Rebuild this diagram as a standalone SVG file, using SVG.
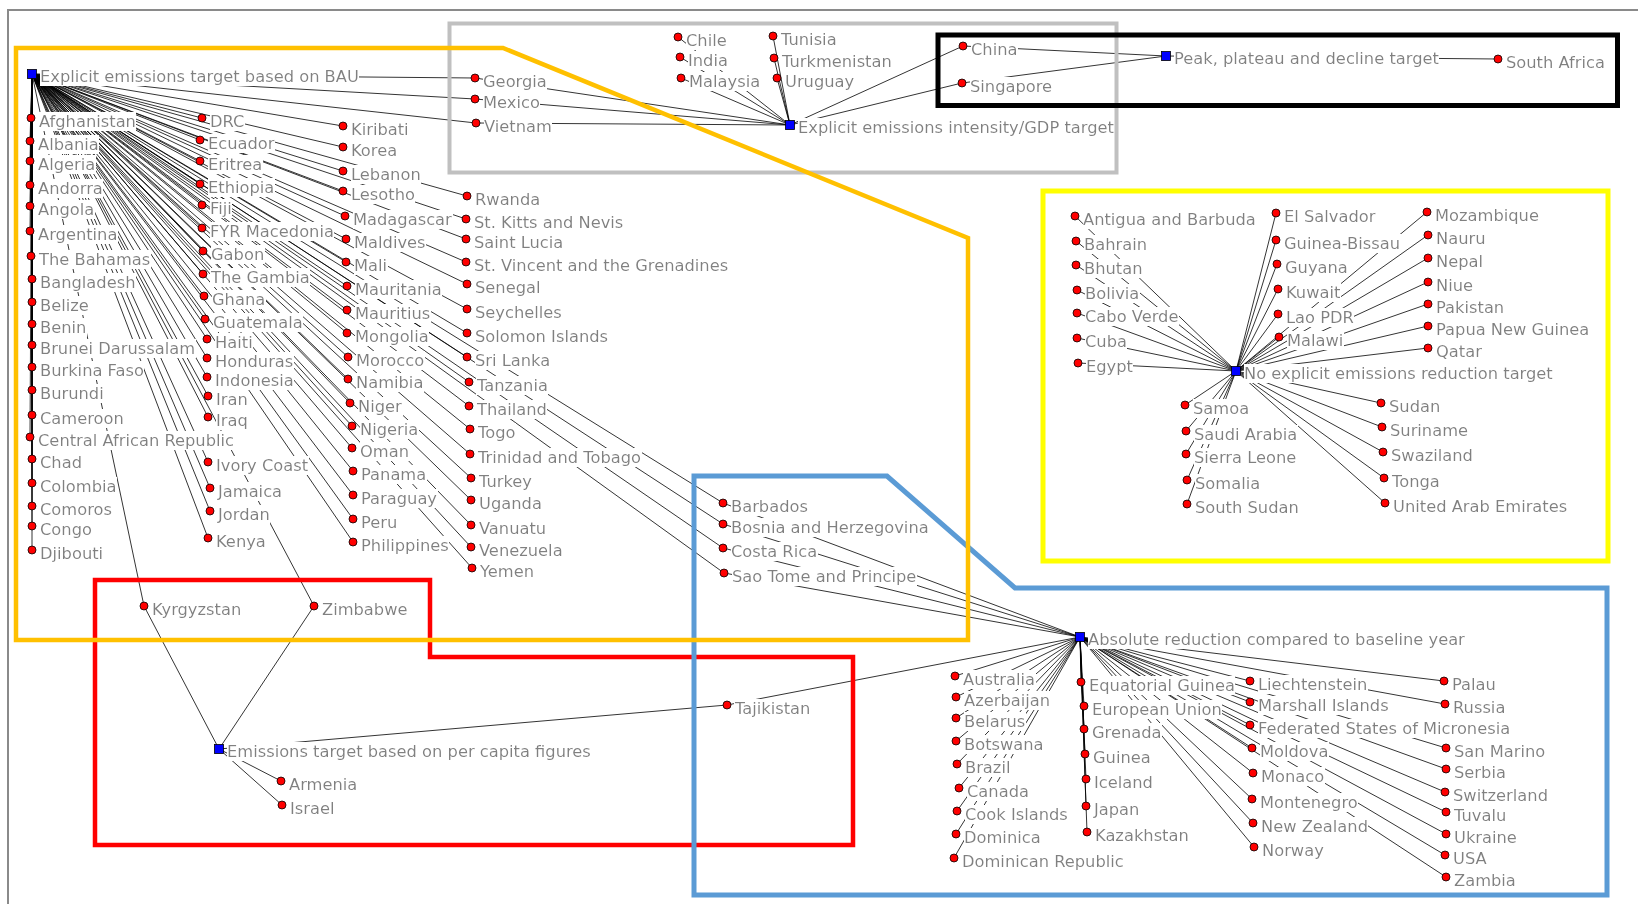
<svg xmlns="http://www.w3.org/2000/svg" width="1638" height="904" viewBox="0 0 1638 904">
<defs>
<filter id="bg" x="0" y="0" width="1" height="1"><feFlood flood-color="#ffffff"/><feComposite in="SourceGraphic" operator="over"/></filter>
</defs>
<style>
text{font-family:"DejaVu Sans","Verdana",sans-serif;font-size:16.3px;fill:#808080;filter:url(#bg);}
.d{fill:#ff0000;stroke:#000;stroke-width:0.8;}
.h{fill:#0000ff;stroke:#000;stroke-width:0.8;}
#connectors line{stroke:#000;stroke-width:0.8;}
.fr{fill:none;stroke-linejoin:miter;}
</style>
<rect x="0" y="0" width="1638" height="904" fill="#ffffff"/>
<path d="M8,904 V10 H1638" fill="none" stroke="#8a8a8a" stroke-width="2"/>
<g id="connectors">
<line x1="32" y1="74" x2="31" y2="118"/><line x1="32" y1="74" x2="30" y2="141"/><line x1="32" y1="74" x2="30" y2="161"/><line x1="32" y1="74" x2="30" y2="185"/><line x1="32" y1="74" x2="30" y2="206"/><line x1="32" y1="74" x2="30" y2="231"/><line x1="32" y1="74" x2="31" y2="256"/><line x1="32" y1="74" x2="32" y2="279"/><line x1="32" y1="74" x2="32" y2="302"/><line x1="32" y1="74" x2="32" y2="324"/><line x1="32" y1="74" x2="32" y2="345"/><line x1="32" y1="74" x2="32" y2="367"/><line x1="32" y1="74" x2="32" y2="390"/><line x1="32" y1="74" x2="32" y2="415"/><line x1="32" y1="74" x2="30" y2="437"/><line x1="32" y1="74" x2="32" y2="459"/><line x1="32" y1="74" x2="32" y2="483"/><line x1="32" y1="74" x2="32" y2="506"/><line x1="32" y1="74" x2="32" y2="526"/><line x1="32" y1="74" x2="32" y2="550"/>
<line x1="32" y1="74" x2="202" y2="118"/><line x1="32" y1="74" x2="200" y2="140"/><line x1="32" y1="74" x2="200" y2="161"/><line x1="32" y1="74" x2="200" y2="184"/><line x1="32" y1="74" x2="202" y2="205"/><line x1="32" y1="74" x2="202" y2="228"/><line x1="32" y1="74" x2="203" y2="251"/><line x1="32" y1="74" x2="203" y2="274"/><line x1="32" y1="74" x2="204" y2="296"/><line x1="32" y1="74" x2="205" y2="319"/><line x1="32" y1="74" x2="207" y2="339"/><line x1="32" y1="74" x2="207" y2="358"/><line x1="32" y1="74" x2="207" y2="377"/><line x1="32" y1="74" x2="208" y2="396"/><line x1="32" y1="74" x2="208" y2="417"/><line x1="32" y1="74" x2="208" y2="462"/><line x1="32" y1="74" x2="210" y2="488"/><line x1="32" y1="74" x2="210" y2="511"/><line x1="32" y1="74" x2="208" y2="538"/>
<line x1="32" y1="74" x2="343" y2="126"/><line x1="32" y1="74" x2="343" y2="147"/><line x1="32" y1="74" x2="343" y2="171"/><line x1="32" y1="74" x2="343" y2="191"/><line x1="32" y1="74" x2="345" y2="216"/><line x1="32" y1="74" x2="346" y2="239"/><line x1="32" y1="74" x2="346" y2="262"/><line x1="32" y1="74" x2="347" y2="286"/><line x1="32" y1="74" x2="347" y2="310"/><line x1="32" y1="74" x2="347" y2="333"/><line x1="32" y1="74" x2="348" y2="357"/><line x1="32" y1="74" x2="348" y2="379"/><line x1="32" y1="74" x2="350" y2="403"/><line x1="32" y1="74" x2="352" y2="426"/><line x1="32" y1="74" x2="352" y2="448"/><line x1="32" y1="74" x2="353" y2="471"/><line x1="32" y1="74" x2="353" y2="495"/><line x1="32" y1="74" x2="353" y2="519"/><line x1="32" y1="74" x2="353" y2="542"/>
<line x1="32" y1="74" x2="467" y2="196"/><line x1="32" y1="74" x2="466" y2="219"/><line x1="32" y1="74" x2="466" y2="239"/><line x1="32" y1="74" x2="466" y2="262"/><line x1="32" y1="74" x2="467" y2="284"/><line x1="32" y1="74" x2="467" y2="309"/><line x1="32" y1="74" x2="467" y2="333"/><line x1="32" y1="74" x2="467" y2="357"/><line x1="32" y1="74" x2="469" y2="382"/><line x1="32" y1="74" x2="469" y2="406"/><line x1="32" y1="74" x2="470" y2="429"/><line x1="32" y1="74" x2="470" y2="454"/><line x1="32" y1="74" x2="471" y2="478"/><line x1="32" y1="74" x2="471" y2="500"/><line x1="32" y1="74" x2="471" y2="525"/><line x1="32" y1="74" x2="471" y2="547"/><line x1="32" y1="74" x2="472" y2="568"/>
<line x1="32" y1="74" x2="475" y2="78"/><line x1="32" y1="74" x2="475" y2="99"/><line x1="32" y1="74" x2="476" y2="123"/><line x1="32" y1="74" x2="723" y2="503"/><line x1="32" y1="74" x2="723" y2="524"/><line x1="32" y1="74" x2="723" y2="548"/><line x1="32" y1="74" x2="724" y2="573"/><line x1="32" y1="74" x2="144" y2="606"/><line x1="32" y1="74" x2="314" y2="606"/>
<line x1="790" y1="125" x2="475" y2="78"/><line x1="790" y1="125" x2="475" y2="99"/><line x1="790" y1="125" x2="476" y2="123"/><line x1="790" y1="125" x2="678" y2="37"/><line x1="790" y1="125" x2="680" y2="57"/><line x1="790" y1="125" x2="681" y2="78"/><line x1="790" y1="125" x2="773" y2="36"/><line x1="790" y1="125" x2="774" y2="58"/><line x1="790" y1="125" x2="777" y2="78"/><line x1="790" y1="125" x2="963" y2="46"/><line x1="790" y1="125" x2="962" y2="83"/>
<line x1="1166" y1="56" x2="963" y2="46"/><line x1="1166" y1="56" x2="962" y2="83"/><line x1="1166" y1="56" x2="1498" y2="59"/>
<line x1="1236" y1="371" x2="1075" y2="216"/><line x1="1236" y1="371" x2="1076" y2="241"/><line x1="1236" y1="371" x2="1076" y2="265"/><line x1="1236" y1="371" x2="1077" y2="290"/><line x1="1236" y1="371" x2="1077" y2="313"/><line x1="1236" y1="371" x2="1077" y2="338"/><line x1="1236" y1="371" x2="1078" y2="363"/><line x1="1236" y1="371" x2="1276" y2="213"/><line x1="1236" y1="371" x2="1276" y2="240"/><line x1="1236" y1="371" x2="1277" y2="264"/><line x1="1236" y1="371" x2="1278" y2="289"/><line x1="1236" y1="371" x2="1278" y2="314"/><line x1="1236" y1="371" x2="1279" y2="337"/><line x1="1236" y1="371" x2="1427" y2="212"/><line x1="1236" y1="371" x2="1428" y2="235"/><line x1="1236" y1="371" x2="1428" y2="258"/><line x1="1236" y1="371" x2="1428" y2="282"/><line x1="1236" y1="371" x2="1428" y2="304"/><line x1="1236" y1="371" x2="1428" y2="326"/><line x1="1236" y1="371" x2="1428" y2="348"/><line x1="1236" y1="371" x2="1185" y2="405"/><line x1="1236" y1="371" x2="1186" y2="431"/><line x1="1236" y1="371" x2="1186" y2="454"/><line x1="1236" y1="371" x2="1187" y2="480"/><line x1="1236" y1="371" x2="1187" y2="504"/><line x1="1236" y1="371" x2="1381" y2="403"/><line x1="1236" y1="371" x2="1382" y2="427"/><line x1="1236" y1="371" x2="1383" y2="452"/><line x1="1236" y1="371" x2="1384" y2="478"/><line x1="1236" y1="371" x2="1385" y2="503"/>
<line x1="1080" y1="637" x2="723" y2="503"/><line x1="1080" y1="637" x2="723" y2="524"/><line x1="1080" y1="637" x2="723" y2="548"/><line x1="1080" y1="637" x2="724" y2="573"/><line x1="1080" y1="637" x2="727" y2="705"/>
<line x1="1080" y1="637" x2="955" y2="676"/><line x1="1080" y1="637" x2="956" y2="697"/><line x1="1080" y1="637" x2="956" y2="718"/><line x1="1080" y1="637" x2="956" y2="741"/><line x1="1080" y1="637" x2="957" y2="764"/><line x1="1080" y1="637" x2="959" y2="788"/><line x1="1080" y1="637" x2="957" y2="811"/><line x1="1080" y1="637" x2="956" y2="834"/><line x1="1080" y1="637" x2="954" y2="858"/>
<line x1="1080" y1="637" x2="1081" y2="682"/><line x1="1080" y1="637" x2="1084" y2="706"/><line x1="1080" y1="637" x2="1084" y2="729"/><line x1="1080" y1="637" x2="1085" y2="754"/><line x1="1080" y1="637" x2="1086" y2="779"/><line x1="1080" y1="637" x2="1086" y2="806"/><line x1="1080" y1="637" x2="1087" y2="832"/>
<line x1="1080" y1="637" x2="1250" y2="681"/><line x1="1080" y1="637" x2="1250" y2="702"/><line x1="1080" y1="637" x2="1250" y2="725"/><line x1="1080" y1="637" x2="1252" y2="748"/><line x1="1080" y1="637" x2="1253" y2="773"/><line x1="1080" y1="637" x2="1252" y2="799"/><line x1="1080" y1="637" x2="1253" y2="823"/><line x1="1080" y1="637" x2="1254" y2="847"/>
<line x1="1080" y1="637" x2="1444" y2="681"/><line x1="1080" y1="637" x2="1445" y2="704"/><line x1="1080" y1="637" x2="1446" y2="748"/><line x1="1080" y1="637" x2="1446" y2="769"/><line x1="1080" y1="637" x2="1445" y2="792"/><line x1="1080" y1="637" x2="1446" y2="812"/><line x1="1080" y1="637" x2="1446" y2="834"/><line x1="1080" y1="637" x2="1445" y2="855"/><line x1="1080" y1="637" x2="1446" y2="877"/>
<line x1="219" y1="749" x2="144" y2="606"/><line x1="219" y1="749" x2="314" y2="606"/><line x1="219" y1="749" x2="281" y2="781"/><line x1="219" y1="749" x2="282" y2="805"/><line x1="219" y1="749" x2="727" y2="705"/>
</g>
<g id="frames">
<rect class="fr" x="449.5" y="23.5" width="667" height="149" stroke="#c0c0c0" stroke-width="4"/>
<path class="fr" d="M95,580 H430 V657 H853 V845 H95 Z" stroke="#ff0000" stroke-width="4.5"/>
<path class="fr" d="M694,476 H887 L1015,588 H1607 V895 H694 Z" stroke="#5b9bd5" stroke-width="5"/>
<path class="fr" d="M16,48 H503 L968,238 V640 H16 Z" stroke="#ffc000" stroke-width="4.5"/>
<rect class="fr" x="1043" y="191" width="565" height="370" stroke="#ffff00" stroke-width="5"/>
<rect class="fr" x="938" y="35" width="679.5" height="70.5" stroke="#000000" stroke-width="5"/>
</g>
<g id="nodes">
<g id="hub-bau"><rect class="h" x="27.5" y="69.5" width="9" height="9"/><text x="40" y="82">Explicit emissions target based on BAU</text></g>
<g id="hub-intensity"><rect class="h" x="785.5" y="120.5" width="9" height="9"/><text x="798" y="133">Explicit emissions intensity/GDP target</text></g>
<g id="hub-peak"><rect class="h" x="1161.5" y="51.5" width="9" height="9"/><text x="1174" y="64">Peak, plateau and decline target</text></g>
<g id="hub-none"><rect class="h" x="1231.5" y="366.5" width="9" height="9"/><text x="1244" y="379">No explicit emissions reduction target</text></g>
<g id="hub-absolute"><rect class="h" x="1075.5" y="632.5" width="9" height="9"/><text x="1088" y="645">Absolute reduction compared to baseline year</text></g>
<g id="hub-percapita"><rect class="h" x="214.5" y="744.5" width="9" height="9"/><text x="227" y="757">Emissions target based on per capita figures</text></g>

<g id="afghanistan"><circle class="d" cx="31" cy="118" r="4"/><text x="39" y="127">Afghanistan</text></g>
<g id="albania"><circle class="d" cx="30" cy="141" r="4"/><text x="38" y="150">Albania</text></g>
<g id="algeria"><circle class="d" cx="30" cy="161" r="4"/><text x="38" y="170">Algeria</text></g>
<g id="andorra"><circle class="d" cx="30" cy="185" r="4"/><text x="38" y="194">Andorra</text></g>
<g id="angola"><circle class="d" cx="30" cy="206" r="4"/><text x="38" y="215">Angola</text></g>
<g id="argentina"><circle class="d" cx="30" cy="231" r="4"/><text x="38" y="240">Argentina</text></g>
<g id="bahamas"><circle class="d" cx="31" cy="256" r="4"/><text x="39" y="265">The Bahamas</text></g>
<g id="bangladesh"><circle class="d" cx="32" cy="279" r="4"/><text x="40" y="288">Bangladesh</text></g>
<g id="belize"><circle class="d" cx="32" cy="302" r="4"/><text x="40" y="311">Belize</text></g>
<g id="benin"><circle class="d" cx="32" cy="324" r="4"/><text x="40" y="333">Benin</text></g>
<g id="brunei"><circle class="d" cx="32" cy="345" r="4"/><text x="40" y="354">Brunei Darussalam</text></g>
<g id="burkina"><circle class="d" cx="32" cy="367" r="4"/><text x="40" y="376">Burkina Faso</text></g>
<g id="burundi"><circle class="d" cx="32" cy="390" r="4"/><text x="40" y="399">Burundi</text></g>
<g id="cameroon"><circle class="d" cx="32" cy="415" r="4"/><text x="40" y="424">Cameroon</text></g>
<g id="car"><circle class="d" cx="30" cy="437" r="4"/><text x="38" y="446">Central African Republic</text></g>
<g id="chad"><circle class="d" cx="32" cy="459" r="4"/><text x="40" y="468">Chad</text></g>
<g id="colombia"><circle class="d" cx="32" cy="483" r="4"/><text x="40" y="492">Colombia</text></g>
<g id="comoros"><circle class="d" cx="32" cy="506" r="4"/><text x="40" y="515">Comoros</text></g>
<g id="congo"><circle class="d" cx="32" cy="526" r="4"/><text x="40" y="535">Congo</text></g>
<g id="djibouti"><circle class="d" cx="32" cy="550" r="4"/><text x="40" y="559">Djibouti</text></g>

<g id="drc"><circle class="d" cx="202" cy="118" r="4"/><text x="210" y="127">DRC</text></g>
<g id="ecuador"><circle class="d" cx="200" cy="140" r="4"/><text x="208" y="149">Ecuador</text></g>
<g id="eritrea"><circle class="d" cx="200" cy="161" r="4"/><text x="208" y="170">Eritrea</text></g>
<g id="ethiopia"><circle class="d" cx="200" cy="184" r="4"/><text x="208" y="193">Ethiopia</text></g>
<g id="fiji"><circle class="d" cx="202" cy="205" r="4"/><text x="210" y="214">Fiji</text></g>
<g id="fyrmacedonia"><circle class="d" cx="202" cy="228" r="4"/><text x="210" y="237">FYR Macedonia</text></g>
<g id="gabon"><circle class="d" cx="203" cy="251" r="4"/><text x="211" y="260">Gabon</text></g>
<g id="gambia"><circle class="d" cx="203" cy="274" r="4"/><text x="211" y="283">The Gambia</text></g>
<g id="ghana"><circle class="d" cx="204" cy="296" r="4"/><text x="212" y="305">Ghana</text></g>
<g id="guatemala"><circle class="d" cx="205" cy="319" r="4"/><text x="213" y="328">Guatemala</text></g>
<g id="haiti"><circle class="d" cx="207" cy="339" r="4"/><text x="215" y="348">Haiti</text></g>
<g id="honduras"><circle class="d" cx="207" cy="358" r="4"/><text x="215" y="367">Honduras</text></g>
<g id="indonesia"><circle class="d" cx="207" cy="377" r="4"/><text x="215" y="386">Indonesia</text></g>
<g id="iran"><circle class="d" cx="208" cy="396" r="4"/><text x="216" y="405">Iran</text></g>
<g id="iraq"><circle class="d" cx="208" cy="417" r="4"/><text x="216" y="426">Iraq</text></g>
<g id="ivorycoast"><circle class="d" cx="208" cy="462" r="4"/><text x="216" y="471">Ivory Coast</text></g>
<g id="jamaica"><circle class="d" cx="210" cy="488" r="4"/><text x="218" y="497">Jamaica</text></g>
<g id="jordan"><circle class="d" cx="210" cy="511" r="4"/><text x="218" y="520">Jordan</text></g>
<g id="kenya"><circle class="d" cx="208" cy="538" r="4"/><text x="216" y="547">Kenya</text></g>

<g id="kiribati"><circle class="d" cx="343" cy="126" r="4"/><text x="351" y="135">Kiribati</text></g>
<g id="korea"><circle class="d" cx="343" cy="147" r="4"/><text x="351" y="156">Korea</text></g>
<g id="lebanon"><circle class="d" cx="343" cy="171" r="4"/><text x="351" y="180">Lebanon</text></g>
<g id="lesotho"><circle class="d" cx="343" cy="191" r="4"/><text x="351" y="200">Lesotho</text></g>
<g id="madagascar"><circle class="d" cx="345" cy="216" r="4"/><text x="353" y="225">Madagascar</text></g>
<g id="maldives"><circle class="d" cx="346" cy="239" r="4"/><text x="354" y="248">Maldives</text></g>
<g id="mali"><circle class="d" cx="346" cy="262" r="4"/><text x="354" y="271">Mali</text></g>
<g id="mauritania"><circle class="d" cx="347" cy="286" r="4"/><text x="355" y="295">Mauritania</text></g>
<g id="mauritius"><circle class="d" cx="347" cy="310" r="4"/><text x="355" y="319">Mauritius</text></g>
<g id="mongolia"><circle class="d" cx="347" cy="333" r="4"/><text x="355" y="342">Mongolia</text></g>
<g id="morocco"><circle class="d" cx="348" cy="357" r="4"/><text x="356" y="366">Morocco</text></g>
<g id="namibia"><circle class="d" cx="348" cy="379" r="4"/><text x="356" y="388">Namibia</text></g>
<g id="niger"><circle class="d" cx="350" cy="403" r="4"/><text x="358" y="412">Niger</text></g>
<g id="nigeria"><circle class="d" cx="352" cy="426" r="4"/><text x="360" y="435">Nigeria</text></g>
<g id="oman"><circle class="d" cx="352" cy="448" r="4"/><text x="360" y="457">Oman</text></g>
<g id="panama"><circle class="d" cx="353" cy="471" r="4"/><text x="361" y="480">Panama</text></g>
<g id="paraguay"><circle class="d" cx="353" cy="495" r="4"/><text x="361" y="504">Paraguay</text></g>
<g id="peru"><circle class="d" cx="353" cy="519" r="4"/><text x="361" y="528">Peru</text></g>
<g id="philippines"><circle class="d" cx="353" cy="542" r="4"/><text x="361" y="551">Philippines</text></g>

<g id="rwanda"><circle class="d" cx="467" cy="196" r="4"/><text x="475" y="205">Rwanda</text></g>
<g id="stkitts"><circle class="d" cx="466" cy="219" r="4"/><text x="474" y="228">St. Kitts and Nevis</text></g>
<g id="stlucia"><circle class="d" cx="466" cy="239" r="4"/><text x="474" y="248">Saint Lucia</text></g>
<g id="stvincent"><circle class="d" cx="466" cy="262" r="4"/><text x="474" y="271">St. Vincent and the Grenadines</text></g>
<g id="senegal"><circle class="d" cx="467" cy="284" r="4"/><text x="475" y="293">Senegal</text></g>
<g id="seychelles"><circle class="d" cx="467" cy="309" r="4"/><text x="475" y="318">Seychelles</text></g>
<g id="solomon"><circle class="d" cx="467" cy="333" r="4"/><text x="475" y="342">Solomon Islands</text></g>
<g id="srilanka"><circle class="d" cx="467" cy="357" r="4"/><text x="475" y="366">Sri Lanka</text></g>
<g id="tanzania"><circle class="d" cx="469" cy="382" r="4"/><text x="477" y="391">Tanzania</text></g>
<g id="thailand"><circle class="d" cx="469" cy="406" r="4"/><text x="477" y="415">Thailand</text></g>
<g id="togo"><circle class="d" cx="470" cy="429" r="4"/><text x="478" y="438">Togo</text></g>
<g id="trinidad"><circle class="d" cx="470" cy="454" r="4"/><text x="478" y="463">Trinidad and Tobago</text></g>
<g id="turkey"><circle class="d" cx="471" cy="478" r="4"/><text x="479" y="487">Turkey</text></g>
<g id="uganda"><circle class="d" cx="471" cy="500" r="4"/><text x="479" y="509">Uganda</text></g>
<g id="vanuatu"><circle class="d" cx="471" cy="525" r="4"/><text x="479" y="534">Vanuatu</text></g>
<g id="venezuela"><circle class="d" cx="471" cy="547" r="4"/><text x="479" y="556">Venezuela</text></g>
<g id="yemen"><circle class="d" cx="472" cy="568" r="4"/><text x="480" y="577">Yemen</text></g>

<g id="georgia"><circle class="d" cx="475" cy="78" r="4"/><text x="483" y="87">Georgia</text></g>
<g id="mexico"><circle class="d" cx="475" cy="99" r="4"/><text x="483" y="108">Mexico</text></g>
<g id="vietnam"><circle class="d" cx="476" cy="123" r="4"/><text x="484" y="132">Vietnam</text></g>
<g id="chile"><circle class="d" cx="678" cy="37" r="4"/><text x="686" y="46">Chile</text></g>
<g id="india"><circle class="d" cx="680" cy="57" r="4"/><text x="688" y="66">India</text></g>
<g id="malaysia"><circle class="d" cx="681" cy="78" r="4"/><text x="689" y="87">Malaysia</text></g>
<g id="tunisia"><circle class="d" cx="773" cy="36" r="4"/><text x="781" y="45">Tunisia</text></g>
<g id="turkmenistan"><circle class="d" cx="774" cy="58" r="4"/><text x="782" y="67">Turkmenistan</text></g>
<g id="uruguay"><circle class="d" cx="777" cy="78" r="4"/><text x="785" y="87">Uruguay</text></g>
<g id="china"><circle class="d" cx="963" cy="46" r="4"/><text x="971" y="55">China</text></g>
<g id="singapore"><circle class="d" cx="962" cy="83" r="4"/><text x="970" y="92">Singapore</text></g>
<g id="southafrica"><circle class="d" cx="1498" cy="59" r="4"/><text x="1506" y="68">South Africa</text></g>

<g id="barbados"><circle class="d" cx="723" cy="503" r="4"/><text x="731" y="512">Barbados</text></g>
<g id="bosnia"><circle class="d" cx="723" cy="524" r="4"/><text x="731" y="533">Bosnia and Herzegovina</text></g>
<g id="costarica"><circle class="d" cx="723" cy="548" r="4"/><text x="731" y="557">Costa Rica</text></g>
<g id="saotome"><circle class="d" cx="724" cy="573" r="4"/><text x="732" y="582">Sao Tome and Principe</text></g>
<g id="kyrgyzstan"><circle class="d" cx="144" cy="606" r="4"/><text x="152" y="615">Kyrgyzstan</text></g>
<g id="zimbabwe"><circle class="d" cx="314" cy="606" r="4"/><text x="322" y="615">Zimbabwe</text></g>
<g id="armenia"><circle class="d" cx="281" cy="781" r="4"/><text x="289" y="790">Armenia</text></g>
<g id="israel"><circle class="d" cx="282" cy="805" r="4"/><text x="290" y="814">Israel</text></g>
<g id="tajikistan"><circle class="d" cx="727" cy="705" r="4"/><text x="735" y="714">Tajikistan</text></g>

<g id="antigua"><circle class="d" cx="1075" cy="216" r="4"/><text x="1083" y="225">Antigua and Barbuda</text></g>
<g id="bahrain"><circle class="d" cx="1076" cy="241" r="4"/><text x="1084" y="250">Bahrain</text></g>
<g id="bhutan"><circle class="d" cx="1076" cy="265" r="4"/><text x="1084" y="274">Bhutan</text></g>
<g id="bolivia"><circle class="d" cx="1077" cy="290" r="4"/><text x="1085" y="299">Bolivia</text></g>
<g id="caboverde"><circle class="d" cx="1077" cy="313" r="4"/><text x="1085" y="322">Cabo Verde</text></g>
<g id="cuba"><circle class="d" cx="1077" cy="338" r="4"/><text x="1085" y="347">Cuba</text></g>
<g id="egypt"><circle class="d" cx="1078" cy="363" r="4"/><text x="1086" y="372">Egypt</text></g>
<g id="elsalvador"><circle class="d" cx="1276" cy="213" r="4"/><text x="1284" y="222">El Salvador</text></g>
<g id="guineabissau"><circle class="d" cx="1276" cy="240" r="4"/><text x="1284" y="249">Guinea-Bissau</text></g>
<g id="guyana"><circle class="d" cx="1277" cy="264" r="4"/><text x="1285" y="273">Guyana</text></g>
<g id="kuwait"><circle class="d" cx="1278" cy="289" r="4"/><text x="1286" y="298">Kuwait</text></g>
<g id="laopdr"><circle class="d" cx="1278" cy="314" r="4"/><text x="1286" y="323">Lao PDR</text></g>
<g id="malawi"><circle class="d" cx="1279" cy="337" r="4"/><text x="1287" y="346">Malawi</text></g>
<g id="mozambique"><circle class="d" cx="1427" cy="212" r="4"/><text x="1435" y="221">Mozambique</text></g>
<g id="nauru"><circle class="d" cx="1428" cy="235" r="4"/><text x="1436" y="244">Nauru</text></g>
<g id="nepal"><circle class="d" cx="1428" cy="258" r="4"/><text x="1436" y="267">Nepal</text></g>
<g id="niue"><circle class="d" cx="1428" cy="282" r="4"/><text x="1436" y="291">Niue</text></g>
<g id="pakistan"><circle class="d" cx="1428" cy="304" r="4"/><text x="1436" y="313">Pakistan</text></g>
<g id="png"><circle class="d" cx="1428" cy="326" r="4"/><text x="1436" y="335">Papua New Guinea</text></g>
<g id="qatar"><circle class="d" cx="1428" cy="348" r="4"/><text x="1436" y="357">Qatar</text></g>
<g id="samoa"><circle class="d" cx="1185" cy="405" r="4"/><text x="1193" y="414">Samoa</text></g>
<g id="saudiarabia"><circle class="d" cx="1186" cy="431" r="4"/><text x="1194" y="440">Saudi Arabia</text></g>
<g id="sierraleone"><circle class="d" cx="1186" cy="454" r="4"/><text x="1194" y="463">Sierra Leone</text></g>
<g id="somalia"><circle class="d" cx="1187" cy="480" r="4"/><text x="1195" y="489">Somalia</text></g>
<g id="southsudan"><circle class="d" cx="1187" cy="504" r="4"/><text x="1195" y="513">South Sudan</text></g>
<g id="sudan"><circle class="d" cx="1381" cy="403" r="4"/><text x="1389" y="412">Sudan</text></g>
<g id="suriname"><circle class="d" cx="1382" cy="427" r="4"/><text x="1390" y="436">Suriname</text></g>
<g id="swaziland"><circle class="d" cx="1383" cy="452" r="4"/><text x="1391" y="461">Swaziland</text></g>
<g id="tonga"><circle class="d" cx="1384" cy="478" r="4"/><text x="1392" y="487">Tonga</text></g>
<g id="uae"><circle class="d" cx="1385" cy="503" r="4"/><text x="1393" y="512">United Arab Emirates</text></g>

<g id="australia"><circle class="d" cx="955" cy="676" r="4"/><text x="963" y="685">Australia</text></g>
<g id="azerbaijan"><circle class="d" cx="956" cy="697" r="4"/><text x="964" y="706">Azerbaijan</text></g>
<g id="belarus"><circle class="d" cx="956" cy="718" r="4"/><text x="964" y="727">Belarus</text></g>
<g id="botswana"><circle class="d" cx="956" cy="741" r="4"/><text x="964" y="750">Botswana</text></g>
<g id="brazil"><circle class="d" cx="957" cy="764" r="4"/><text x="965" y="773">Brazil</text></g>
<g id="canada"><circle class="d" cx="959" cy="788" r="4"/><text x="967" y="797">Canada</text></g>
<g id="cookislands"><circle class="d" cx="957" cy="811" r="4"/><text x="965" y="820">Cook Islands</text></g>
<g id="dominica"><circle class="d" cx="956" cy="834" r="4"/><text x="964" y="843">Dominica</text></g>
<g id="dominicanrep"><circle class="d" cx="954" cy="858" r="4"/><text x="962" y="867">Dominican Republic</text></g>
<g id="eqguinea"><circle class="d" cx="1081" cy="682" r="4"/><text x="1089" y="691">Equatorial Guinea</text></g>
<g id="eu"><circle class="d" cx="1084" cy="706" r="4"/><text x="1092" y="715">European Union</text></g>
<g id="grenada"><circle class="d" cx="1084" cy="729" r="4"/><text x="1092" y="738">Grenada</text></g>
<g id="guinea"><circle class="d" cx="1085" cy="754" r="4"/><text x="1093" y="763">Guinea</text></g>
<g id="iceland"><circle class="d" cx="1086" cy="779" r="4"/><text x="1094" y="788">Iceland</text></g>
<g id="japan"><circle class="d" cx="1086" cy="806" r="4"/><text x="1094" y="815">Japan</text></g>
<g id="kazakhstan"><circle class="d" cx="1087" cy="832" r="4"/><text x="1095" y="841">Kazakhstan</text></g>
<g id="liechtenstein"><circle class="d" cx="1250" cy="681" r="4"/><text x="1258" y="690">Liechtenstein</text></g>
<g id="marshall"><circle class="d" cx="1250" cy="702" r="4"/><text x="1258" y="711">Marshall Islands</text></g>
<g id="micronesia"><circle class="d" cx="1250" cy="725" r="4"/><text x="1258" y="734">Federated States of Micronesia</text></g>
<g id="moldova"><circle class="d" cx="1252" cy="748" r="4"/><text x="1260" y="757">Moldova</text></g>
<g id="monaco"><circle class="d" cx="1253" cy="773" r="4"/><text x="1261" y="782">Monaco</text></g>
<g id="montenegro"><circle class="d" cx="1252" cy="799" r="4"/><text x="1260" y="808">Montenegro</text></g>
<g id="newzealand"><circle class="d" cx="1253" cy="823" r="4"/><text x="1261" y="832">New Zealand</text></g>
<g id="norway"><circle class="d" cx="1254" cy="847" r="4"/><text x="1262" y="856">Norway</text></g>
<g id="palau"><circle class="d" cx="1444" cy="681" r="4"/><text x="1452" y="690">Palau</text></g>
<g id="russia"><circle class="d" cx="1445" cy="704" r="4"/><text x="1453" y="713">Russia</text></g>
<g id="sanmarino"><circle class="d" cx="1446" cy="748" r="4"/><text x="1454" y="757">San Marino</text></g>
<g id="serbia"><circle class="d" cx="1446" cy="769" r="4"/><text x="1454" y="778">Serbia</text></g>
<g id="switzerland"><circle class="d" cx="1445" cy="792" r="4"/><text x="1453" y="801">Switzerland</text></g>
<g id="tuvalu"><circle class="d" cx="1446" cy="812" r="4"/><text x="1454" y="821">Tuvalu</text></g>
<g id="ukraine"><circle class="d" cx="1446" cy="834" r="4"/><text x="1454" y="843">Ukraine</text></g>
<g id="usa"><circle class="d" cx="1445" cy="855" r="4"/><text x="1453" y="864">USA</text></g>
<g id="zambia"><circle class="d" cx="1446" cy="877" r="4"/><text x="1454" y="886">Zambia</text></g>
</g>
</svg>
